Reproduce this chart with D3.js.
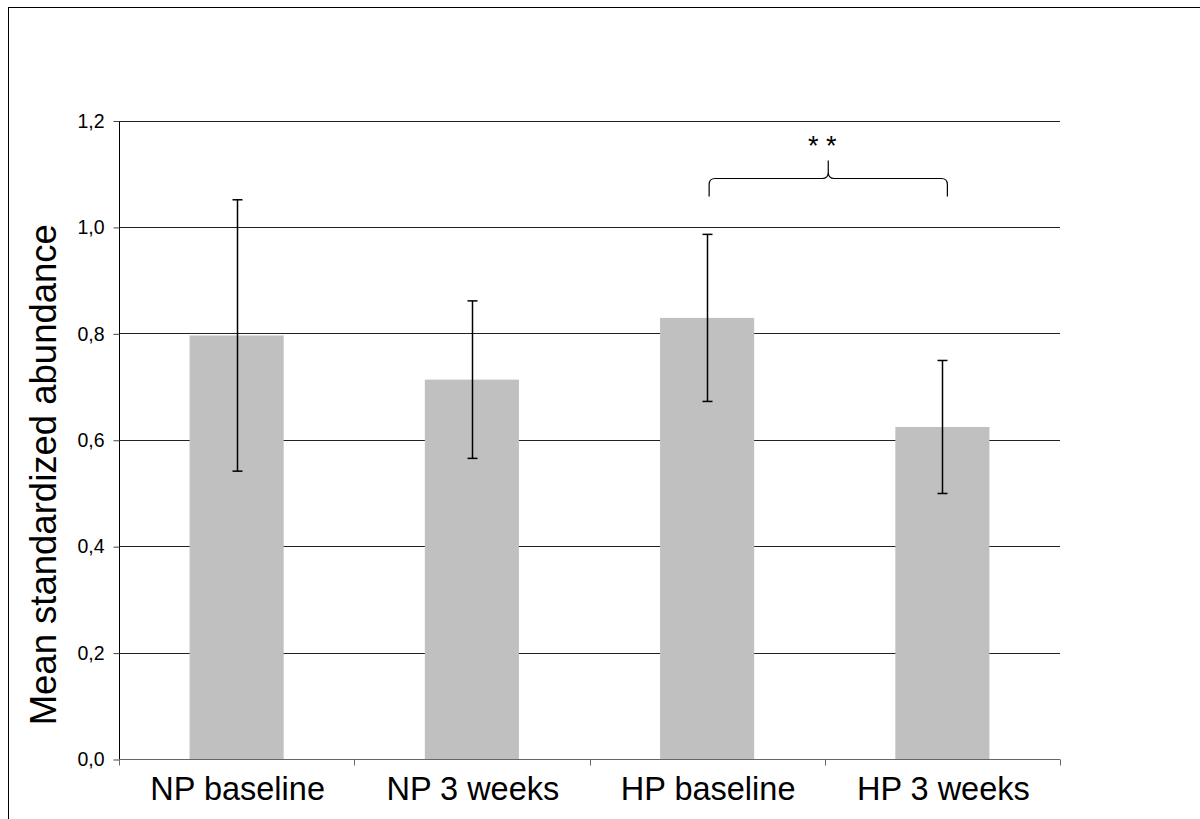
<!DOCTYPE html>
<html>
<head>
<meta charset="utf-8">
<script src="https://cdn.jsdelivr.net/npm/d3@7"></script>
<style>
  html, body { margin: 0; padding: 0; background: #fff; }
  svg { display: block; }
  text { font-family: "Liberation Sans", Arial, sans-serif; fill: #000; }
</style>
</head>
<body>
<svg id="chart" width="1200" height="819"></svg>
<script>
const categories = ["NP baseline", "NP 3 weeks", "HP baseline", "HP 3 weeks"];
const means = [0.796, 0.713, 0.829, 0.624];
const errors = [0.255, 0.148, 0.157, 0.125];
const yTicks = [0, 0.2, 0.4, 0.6, 0.8, 1.0, 1.2];
const yTitle = "Mean standardized abundance";
const sigLabel = "**";
const sigPair = ["HP baseline", "HP 3 weeks"];
const sigLevel = 1.092;

const svg = d3.select("#chart");
const plotL = 119, plotR = 1060, plotT = 120.5, plotB = 759;

// outer border
svg.append("rect").attr("x", 8.5).attr("y", 7.5).attr("width", 1200).attr("height", 830)
  .attr("fill", "none").attr("stroke", "#000").attr("stroke-width", 1);

const x = d3.scaleBand().domain(categories).range([plotL, plotR]).paddingInner(0.6).paddingOuter(0.3);
const y = d3.scaleLinear().domain([0, 1.2]).range([plotB, plotT]);

// gridlines
svg.append("g").selectAll("line").data(yTicks.filter(d => d > 0)).join("line")
  .attr("x1", plotL).attr("x2", plotR)
  .attr("y1", d => Math.round(y(d)) + 0.5).attr("y2", d => Math.round(y(d)) + 0.5)
  .attr("stroke", "#222").attr("stroke-width", 1);

// bars
svg.append("g").selectAll("rect").data(categories).join("rect")
  .attr("x", d => x(d)).attr("width", x.bandwidth())
  .attr("y", (d, i) => y(means[i])).attr("height", (d, i) => plotB - y(means[i]))
  .attr("fill", "#c0c0c0");

// y axis
const yAxis = d3.axisLeft(y).tickValues(yTicks).tickSize(6).tickPadding(9)
  .tickFormat(d => d3.format(".1f")(d).replace(".", ","));
const gy = svg.append("g").attr("transform", `translate(${plotL + 0.5},0.5)`).call(yAxis);
gy.select(".domain").attr("stroke", "#000").attr("d", `M0,${plotB}V${plotT}`);
gy.selectAll(".tick line").attr("stroke", "#444");
gy.selectAll(".tick text").style("font-size", "19.5px").style("font-family", '"Liberation Sans", Arial, sans-serif').attr("fill", "#000");

// x axis
const gx = svg.append("g").attr("transform", `translate(0,${plotB + 0.5})`);
gx.append("line").attr("x1", plotL).attr("x2", plotR).attr("y1", 0).attr("y2", 0).attr("stroke", "#666");
const bounds = [plotL].concat(categories.map(c => x(c) + x.bandwidth() + x.step() * 0.3));
gx.selectAll(".xt").data(bounds).join("line").attr("class", "xt")
  .attr("x1", d => Math.round(d) + 0.5).attr("x2", d => Math.round(d) + 0.5)
  .attr("y1", 0).attr("y2", 6).attr("stroke", "#666");
gx.selectAll("text").data(categories).join("text")
  .attr("x", d => x(d) + x.bandwidth() / 2 + 1).attr("y", 40)
  .attr("text-anchor", "middle").style("font-size", "32.5px").text(d => d);

// error bars
const eg = svg.append("g").attr("stroke", "#000").attr("stroke-width", 1.5);
categories.forEach((c, i) => {
  const cx = Math.round(x(c) + x.bandwidth() / 2) + 0.5;
  const hi = y(means[i] + errors[i]), lo = y(means[i] - errors[i]);
  eg.append("line").attr("x1", cx).attr("x2", cx).attr("y1", hi).attr("y2", lo);
  eg.append("line").attr("x1", cx - 5).attr("x2", cx + 5).attr("y1", hi).attr("y2", hi);
  eg.append("line").attr("x1", cx - 5).attr("x2", cx + 5).attr("y1", lo).attr("y2", lo);
});

// y title
svg.append("text")
  .attr("transform", `translate(56,${(plotT + plotB) / 2 + 35}) rotate(-90)`)
  .attr("text-anchor", "middle").style("font-size", "36.5px").text(yTitle);

// significance brace
const bx1 = x(sigPair[0]) + x.bandwidth() / 2 + 2;
const bx2 = x(sigPair[1]) + x.bandwidth() / 2 + 5;
const bm = (bx1 + bx2) / 2;
const by = Math.round(y(sigLevel)) + 0.5;
const r = 6;
const braceD = `M${bx1},${by + 18} L${bx1},${by + r} Q${bx1},${by} ${bx1 + r},${by}
  L${bm - r},${by} Q${bm},${by} ${bm},${by - r} L${bm},${by - 18}
  M${bm},${by - r} Q${bm},${by} ${bm + r},${by} L${bx2 - r},${by} Q${bx2},${by} ${bx2},${by + r} L${bx2},${by + 18}`;
svg.append("path").attr("d", braceD).attr("fill", "none").attr("stroke", "#000").attr("stroke-width", 1.2);
svg.append("text").attr("x", bm - 6).attr("y", by - 24).attr("text-anchor", "middle")
  .style("font-size", "27px").text(sigLabel.split("").join(" "));
</script>
</body>
</html>
